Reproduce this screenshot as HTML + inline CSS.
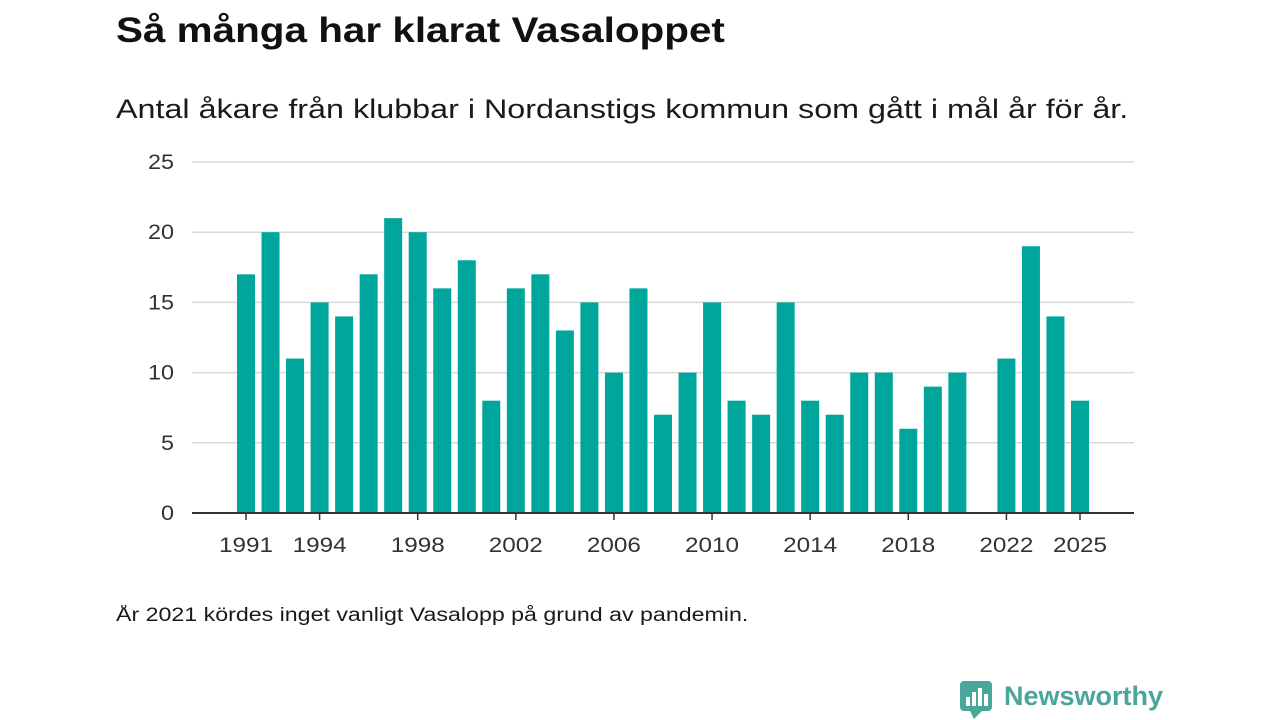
<!DOCTYPE html>
<html><head><meta charset="utf-8"><style>
body{margin:0;width:1280px;height:720px;background:#fff;font-family:"Liberation Sans",sans-serif;overflow:hidden;position:relative}
.t{position:absolute;white-space:nowrap;color:#1a1a1a;transform-origin:0 0}
</style></head><body>
<div class="t" style="left:116px;top:11px;font-size:35px;font-weight:bold;color:#111;transform:scaleX(1.155)">Så många har klarat Vasaloppet</div>
<div class="t" style="left:116px;top:94px;font-size:27px;transform:scaleX(1.196)">Antal åkare från klubbar i Nordanstigs kommun som gått i mål år för år.</div>
<svg id="chart" width="1280" height="720" style="position:absolute;left:0;top:0"></svg>
<div class="t" style="left:116px;top:605px;font-size:19px;transform:scaleX(1.22)">År 2021 kördes inget vanligt Vasalopp på grund av pandemin.</div>
<div style="position:absolute;left:960px;top:681px">
<svg width="34" height="38" style="position:absolute;left:0;top:0"><rect x="0" y="0" width="32" height="30" rx="4" fill="#4aa59a"/><polygon points="10,30 22,30 14,38" fill="#4aa59a"/><rect x="6" y="16" width="4" height="9" fill="#fff"/><rect x="12" y="11" width="4" height="14" fill="#fff"/><rect x="18" y="7" width="4" height="18" fill="#fff"/><rect x="24" y="13" width="4" height="12" fill="#fff"/></svg>
<div class="t" style="left:44px;top:0px;font-size:27px;font-weight:bold;color:#4aa59a">Newsworthy</div>
</div>
<script>
const years=[1991,1992,1993,1994,1995,1996,1997,1998,1999,2000,2001,2002,2003,2004,2005,2006,2007,2008,2009,2010,2011,2012,2013,2014,2015,2016,2017,2018,2019,2020,2021,2022,2023,2024,2025];
const values=[17,20,11,15,14,17,21,20,16,18,8,16,17,13,15,10,16,7,10,15,8,7,15,8,7,10,10,6,9,10,null,11,19,14,8];
const yTicks=[0,5,10,15,20,25];
const xTickYears=[1991,1994,1998,2002,2006,2010,2014,2018,2022,2025];
const svg=document.getElementById('chart');const NS='http://www.w3.org/2000/svg';
const x0=246,step=(1080-246)/(2025-1991),bw=18;
const xs=y=>x0+(y-1991)*step;
const ys=v=>513-v*(513-162)/25;
function mk(t,a){const e=document.createElementNS(NS,t);for(const k in a)e.setAttribute(k,a[k]);svg.appendChild(e);return e;}
yTicks.forEach(v=>{
 if(v>0){const g=mk('line',{x1:192,x2:1134,y1:ys(v),y2:ys(v),stroke:'#d9d9d9','stroke-width':1.5});
 
 }
 const s=String(v);
 const t=mk('text',{x:174,y:ys(v)+7,'text-anchor':'end','font-size':21,fill:'#333','font-family':'Liberation Sans, sans-serif',textLength:s.length*13,lengthAdjust:'spacingAndGlyphs'});t.textContent=s;
 
 
});
years.forEach((yr,i)=>{const v=values[i];if(v==null)return;
 const r=mk('rect',{x:xs(yr)-bw/2,y:ys(v),width:bw,height:ys(0)-ys(v),fill:'#00a59b'});
 
 
});
const ax=mk('line',{x1:192,x2:1134,y1:513,y2:513,stroke:'#333','stroke-width':2});


xTickYears.forEach(yr=>{
 const tk=mk('line',{x1:xs(yr),x2:xs(yr),y1:513,y2:520,stroke:'#333','stroke-width':1.5});
 
 
 const t=mk('text',{x:xs(yr),y:552,'text-anchor':'middle','font-size':21,fill:'#333','font-family':'Liberation Sans, sans-serif',textLength:54,lengthAdjust:'spacingAndGlyphs'});t.textContent=yr;
 
 
});
</script>
</body></html>
